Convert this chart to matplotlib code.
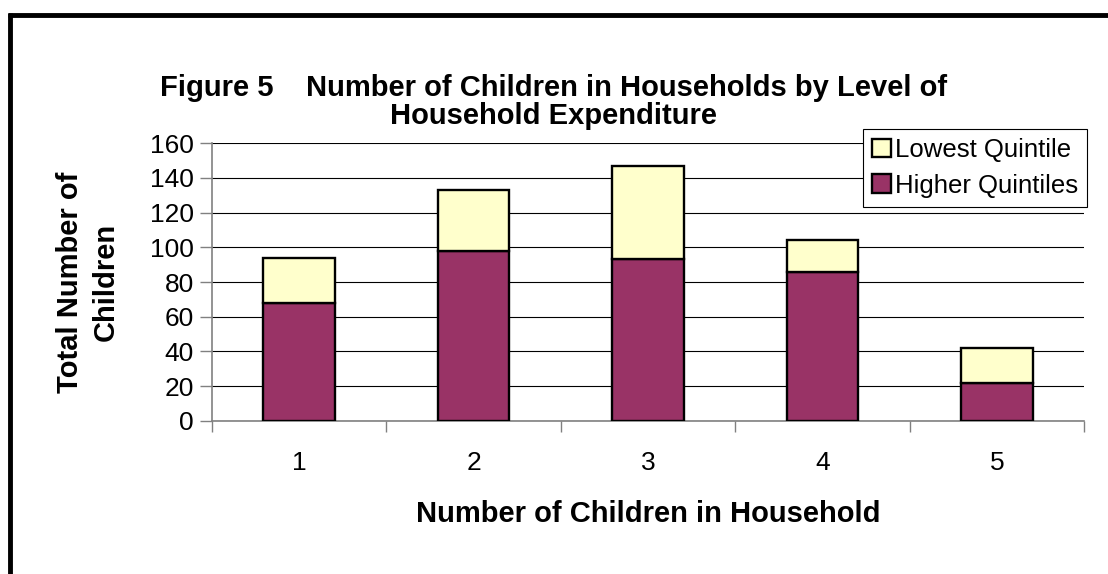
import matplotlib
matplotlib.use("Agg")
import matplotlib.pyplot as plt
import numpy as np
from matplotlib.lines import Line2D

plt.rcParams['font.family'] = ['Liberation Sans', 'DejaVu Sans']

# data
categories = ["1", "2", "3", "4", "5"]
higher_quintiles = [68, 98, 93, 86, 22]
lowest_quintile = [26, 35, 54, 18, 20]
y_ticks = [0, 20, 40, 60, 80, 100, 120, 140, 160]

MAROON = "#993366"
CREAM = "#FFFFCC"

fig = plt.figure(figsize=(11.08, 5.74), dpi=100)
ax = fig.add_axes([212 / 1108, 1 - 420.7 / 574, 872 / 1108, 277.4 / 574])

x = np.arange(len(categories))
ax.bar(x, higher_quintiles, width=0.41, color=MAROON, edgecolor="black",
       linewidth=1.7, label="Higher Quintiles", zorder=3)
ax.bar(x, lowest_quintile, width=0.41, bottom=higher_quintiles, color=CREAM,
       edgecolor="black", linewidth=1.7, label="Lowest Quintile", zorder=3)

ax.set_xlim(-0.5, len(categories) - 0.5)
ax.set_ylim(0, 160)
ax.set_yticks(y_ticks)
ax.set_xticks(x)
ax.set_xticklabels(categories)
ax.set_xticks(np.arange(len(categories) + 1) - 0.5, minor=True)
ax.tick_params(axis="x", which="major", length=0, pad=22, labelsize=19)
ax.tick_params(axis="x", which="minor", length=8, width=1, color="#808080",
               direction="out")
ax.tick_params(axis="y", length=9, width=1, color="#808080", labelsize=19, pad=4)
ax.yaxis.grid(True, color="black", linewidth=0.8, zorder=0)
ax.set_axisbelow(True)

for side in ["top", "right"]:
    ax.spines[side].set_visible(False)
for side in ["left", "bottom"]:
    ax.spines[side].set_color("#808080")
    ax.spines[side].set_linewidth(1.2)

ax.set_xlabel("Number of Children in Household", fontsize=21, fontweight="bold",
              labelpad=18)
ax.set_ylabel("Total Number of\nChildren", fontsize=21, fontweight="bold",
              labelpad=22, linespacing=1.35)

handles, labels = ax.get_legend_handles_labels()
leg = ax.legend(handles[::-1], labels[::-1], loc="upper right",
                bbox_to_anchor=(1087 / 1108, 1 - 129 / 574),
                bbox_transform=fig.transFigure, fontsize=18.5, frameon=True,
                fancybox=False, edgecolor="black", framealpha=1,
                handlelength=0.75, handleheight=0.75, handletextpad=0.15,
                borderpad=0.35, labelspacing=0.45, borderaxespad=0)
leg.get_frame().set_linewidth(0.8)
leg.set_zorder(5)

fig.text(0.5, 1 - 88 / 574, "Figure 5    Number of Children in Households by Level of",
         ha="center", va="center", fontsize=21, fontweight="bold")
fig.text(0.5, 1 - 116 / 574, "Household Expenditure",
         ha="center", va="center", fontsize=21, fontweight="bold")

# frame lines of the cropped border
fig.add_artist(Line2D([8 / 1108, 1], [1 - 15 / 574, 1 - 15 / 574],
                      color="black", linewidth=3.5, solid_capstyle="butt",
                      transform=fig.transFigure))
fig.add_artist(Line2D([10 / 1108, 10 / 1108], [0, 1 - 13 / 574],
                      color="black", linewidth=3.5, solid_capstyle="butt",
                      transform=fig.transFigure))

fig.savefig("out.png", dpi=100, facecolor="white")
